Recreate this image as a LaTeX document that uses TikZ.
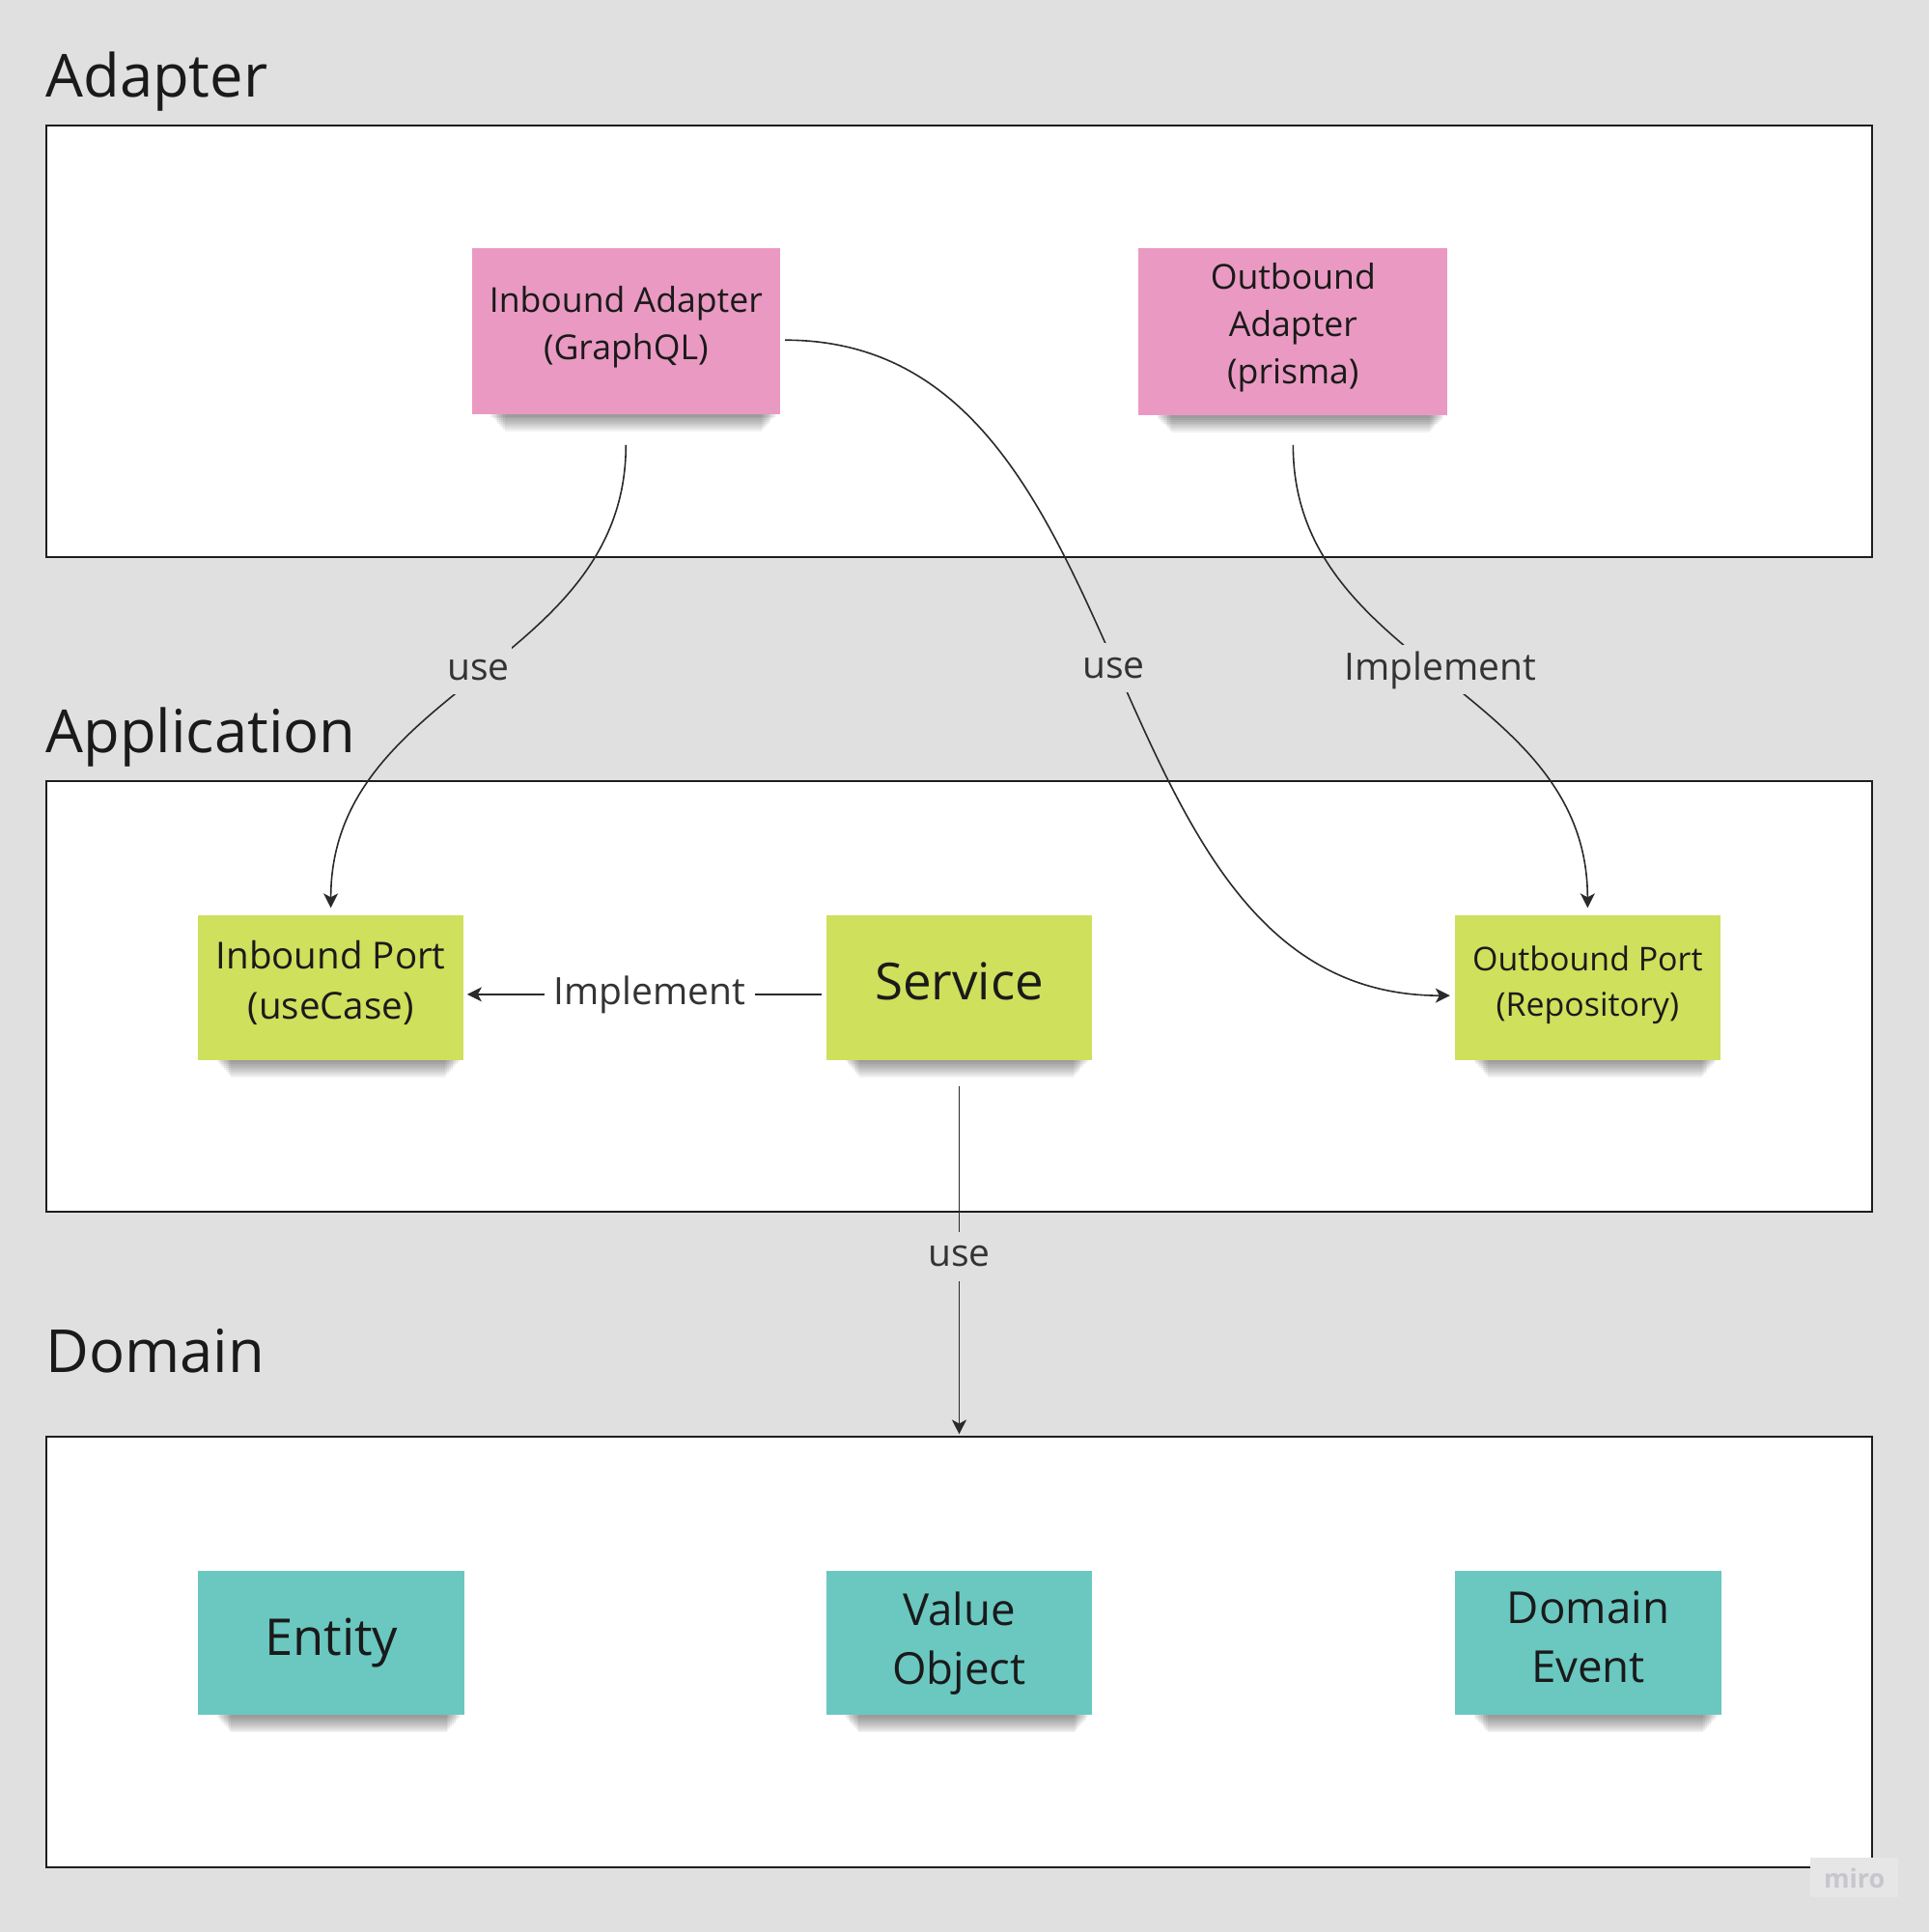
\documentclass[tikz,border=0pt]{standalone}
\usepackage{fontspec}
\setmainfont{Open Sans}
\usetikzlibrary{calc,arrows.meta}
\definecolor{bgc}{HTML}{E0E0E0}
\definecolor{framec}{HTML}{1E1E1E}
\definecolor{linec}{HTML}{2A2A2A}
\definecolor{labelc}{HTML}{333333}
\definecolor{textc}{HTML}{1A1A1A}
\definecolor{pinkc}{HTML}{EA9AC2}
\definecolor{greenc}{HTML}{CEE05C}
\definecolor{tealc}{HTML}{6AC8C1}
\definecolor{miroc}{HTML}{C6C6CE}
\definecolor{mirobox}{HTML}{E6E6E6}
\newcommand\pxu{1.2759pt}
\pgfdeclarelayer{backl}
\pgfdeclarelayer{shadowl}
\pgfsetlayers{backl,shadowl,main}
\newcommand\stickyshadow[1]{%
  \begin{pgfonlayer}{shadowl}
    \foreach \i in {1,...,9}{%
      \fill[black,opacity=0.05] ($(#1.south west)+(14+1.4*\i,-3)$) rectangle ($(#1.south east)+(-2-1.4*\i,0.5+1.5*\i)$);
    }
  \end{pgfonlayer}}
\begin{document}
\begin{tikzpicture}[x=1.2759pt, y=-1.2759pt,
  frame/.style={draw=framec, line width=2pt, fill=white, minimum width=1482*\pxu, minimum height=350*\pxu, inner sep=0pt, anchor=north west},
  title/.style={anchor=base west, inner sep=0pt, text=textc, font=\fontsize{61.5}{74}\selectfont},
  sticky/.style={inner sep=0pt, align=center, text=textc},
  pinknote/.style={sticky, fill=pinkc, minimum width=250*\pxu, minimum height=135*\pxu, font=\fontsize{35.6}{49}\selectfont, text depth=17pt},
  greennote/.style={sticky, fill=greenc, minimum width=215*\pxu, minimum height=117*\pxu},
  tealnote/.style={sticky, fill=tealc, minimum width=216*\pxu, minimum height=117*\pxu},
  conn/.style={draw=linec, line width=1.6pt, -{Stealth[length=15pt,width=15pt,inset=4pt]}},
  lbl/.style={text=labelc, font=\fontsize{39}{46}\selectfont, text height=21pt, text depth=0pt, inner ysep=15pt, inner xsep=2pt, fill=bgc},
]
\useasboundingbox (0,0) rectangle (1566,1568);
\begin{pgfonlayer}{backl}
  \fill[bgc] (0,0) rectangle (1566,1568);
  \node[frame] (AF) at (37,101) {};
  \node[frame] (PF) at (37,633) {};
  \node[frame] (DF) at (37,1165) {};
\end{pgfonlayer}

% titles
\node[title] (AT) at (37,79) {Adapter};
\node[title] (PT) at (37,611) {Application};
\node[title] (DT) at (37,1114) {Domain};

% adapter layer
\node[pinknote] (IA) at (508,268.5) {Inbound Adapter\\(GraphQL)};
\node[pinknote, minimum width=251*\pxu, minimum height=136*\pxu] (OA) at (1049.5,269) {Outbound\\Adapter\\(prisma)};

% application layer
\node[greennote, font=\fontsize{38.5}{52}\selectfont, text depth=15pt] (IP) at (268.5,801.5) {Inbound Port\\(useCase)};
\node[greennote, font=\fontsize{52.8}{60}\selectfont, text depth=13pt] (SV) at (778.5,801.5) {Service};
\node[greennote, font=\fontsize{33.9}{47}\selectfont, text depth=14pt] (OP) at (1288.5,801.5) {Outbound Port\\(Repository)};

% domain layer
\node[tealnote, font=\fontsize{52.5}{60}\selectfont] (EN) at (269,1333.5) {Entity};
\node[tealnote, font=\fontsize{45.6}{61}\selectfont] (VO) at (778.5,1333.5) {Value\\Object};
\node[tealnote, font=\fontsize{45.6}{61}\selectfont, text depth=12.8pt] (DE) at (1289,1333.5) {Domain\\Event};

\stickyshadow{IA}
\stickyshadow{OA}
\stickyshadow{IP}
\stickyshadow{SV}
\stickyshadow{OP}
\stickyshadow{EN}
\stickyshadow{VO}
\stickyshadow{DE}

% connectors
\draw[conn] ($(IA.south)+(0,25)$) .. controls +(0,180) and +(0,-180) .. ($(IP.north)+(0,-6)$)
  node[pos=0.5, lbl, yshift=7pt] (L1) {use};
\draw[conn] ($(IA.east)+(4,7.5)$) .. controls +(300,0) and +(-300,0) .. ($(OP.west)+(-4,6.5)$)
  node[pos=0.5, lbl, xshift=-4pt] (L2) {use};
\draw[conn] ($(OA.south)+(0,24)$) .. controls +(0,180) and +(0,-180) .. ($(OP.north)+(0,-6)$)
  node[pos=0.5, lbl, yshift=7pt] (L3) {Implement};
\draw[conn] ($(SV.west)+(-4,5.5)$) -- ($(IP.east)+(3,5.5)$)
  node[pos=0.485, lbl, fill=white, inner xsep=10pt] (L4) {Implement};
\draw[conn] ($(SV.south)+(0,21)$) -- ($(SV.south |- DF.north)+(0,-1)$)
  node[pos=0.49, lbl] (L5) {use};

% watermark
\node[fill=mirobox, text=miroc, font=\bfseries\fontsize{27}{30}\selectfont, inner xsep=14pt, inner ysep=10pt] (miro) at (1505,1524) {miro};
\end{tikzpicture}
\end{document}
